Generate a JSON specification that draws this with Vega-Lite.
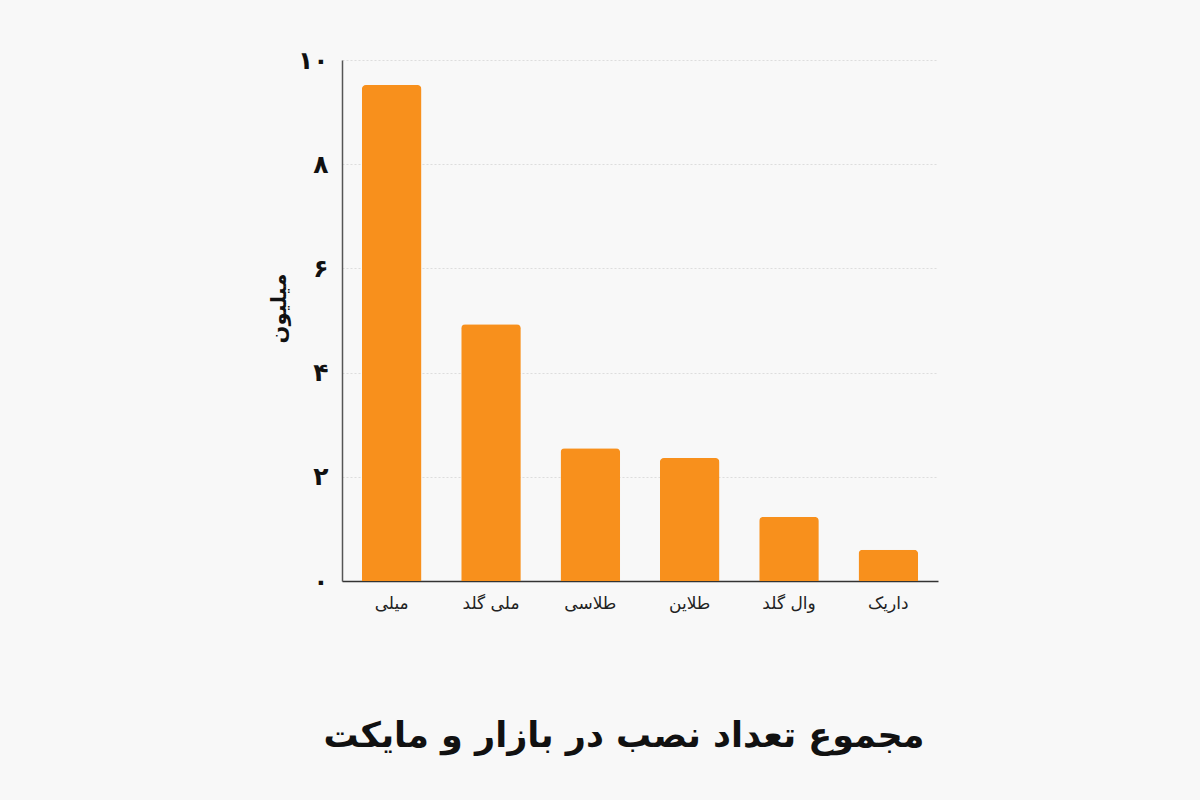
{
  "$schema": "https://vega.github.io/schema/vega-lite/v6.json",
  "width": 596,
  "height": 521,
  "autosize": {"type": "none"},
  "padding": {"left": 342, "top": 60, "right": 262, "bottom": 219},
  "background": "#f8f8f8",
  "title": {
    "text": "مجموع تعداد نصب در بازار و مایکت",
    "orient": "bottom",
    "anchor": "middle",
    "font": "DejaVu Sans",
    "fontSize": 35,
    "fontWeight": "bold",
    "color": "#111111",
    "offset": 108,
    "dx": -16
  },
  "data": {
    "values": [
      {"app": "میلی", "installs": 9.52},
      {"app": "ملی گلد", "installs": 4.93},
      {"app": "طلاسی", "installs": 2.55},
      {"app": "طلاین", "installs": 2.36},
      {"app": "وال گلد", "installs": 1.23},
      {"app": "داریک", "installs": 0.6}
    ]
  },
  "mark": {"type": "bar", "color": "#F8901C", "cornerRadiusTopLeft": 4, "cornerRadiusTopRight": 4},
  "encoding": {
    "x": {
      "field": "app",
      "type": "nominal",
      "sort": null,
      "scale": {"paddingInner": 0.4, "paddingOuter": 0.2},
      "axis": {
        "title": null,
        "labelAngle": 0,
        "labelFont": "DejaVu Sans",
        "labelFontSize": 17,
        "labelColor": "#222222",
        "labelPadding": 14,
        "ticks": false,
        "domainColor": "#333333",
        "domainWidth": 1.5
      }
    },
    "y": {
      "field": "installs",
      "type": "quantitative",
      "scale": {"domain": [0, 10]},
      "axis": {
        "title": "میلیون",
        "titleFont": "DejaVu Sans",
        "titleFontSize": 21,
        "titleFontWeight": "bold",
        "titleColor": "#111111",
        "titlePadding": 8,
        "titleY": 248,
        "values": [0, 2, 4, 6, 8, 10],
        "labelExpr": "replace(replace(replace(replace(replace(replace(datum.label,'0','۰'),'1','۱'),'2','۲'),'4','۴'),'6','۶'),'8','۸')",
        "labelFont": "DejaVu Sans",
        "labelFontSize": 25,
        "labelFontWeight": "bold",
        "labelColor": "#111111",
        "labelPadding": 14,
        "ticks": false,
        "domainColor": "#555555",
        "domainWidth": 1.5,
        "grid": true,
        "gridColor": "#dddddd",
        "gridDash": [2, 2]
      }
    }
  },
  "config": {"view": {"stroke": null}}
}
